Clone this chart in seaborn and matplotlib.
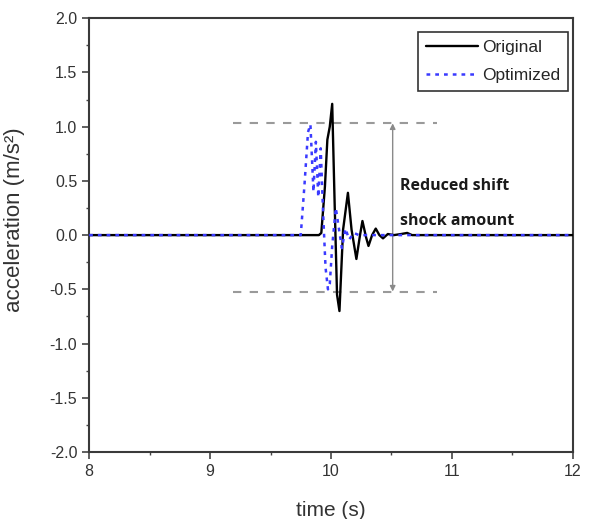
# === IMPORTS ===
import numpy as np
import pandas as pd
import matplotlib
matplotlib.use("Agg")
import matplotlib.pyplot as plt
import seaborn as sns
from matplotlib.ticker import MultipleLocator

# === DATA ===
t_original = [8.0, 9.90, 9.92, 9.95, 9.97, 9.99, 10.01, 10.03, 10.05, 10.07,
              10.10, 10.14, 10.17, 10.21, 10.24, 10.26, 10.29, 10.31, 10.34,
              10.37, 10.40, 10.43, 10.47, 10.52, 10.58, 10.63, 10.67, 12.0]
a_original = [0.0, 0.0, 0.02, 0.45, 0.88, 1.0, 1.21, 0.3, -0.55, -0.70,
              0.05, 0.39, 0.05, -0.22, 0.0, 0.13, -0.02, -0.10, 0.0,
              0.06, 0.0, -0.03, 0.01, 0.0, 0.01, 0.02, 0.0, 0.0]

t_optimized = [8.0, 9.75, 9.78, 9.81, 9.83, 9.855, 9.875, 9.895, 9.915, 9.935,
               9.955, 9.975, 9.99, 10.01, 10.04, 10.06, 10.09, 10.12, 10.15,
               10.19, 10.23, 12.0]
a_optimized = [0.0, 0.0, 0.45, 0.95, 1.02, 0.40, 0.86, 0.35, 0.80, 0.20,
               -0.30, -0.50, -0.45, -0.10, 0.25, 0.10, -0.12, 0.06, -0.04,
               0.02, 0.0, 0.0]

# reference band (max / min after optimization)
band_top = 1.03
band_bottom = -0.52
band_t = [9.19, 10.88]
arrow_t = 10.51

# === SETTINGS ===
sns.set_style("ticks")
plt.rcParams["font.family"] = ["Liberation Sans", "DejaVu Sans"]

df = pd.concat([
    pd.DataFrame({"time": t_original, "acc": a_original, "series": "Original"}),
    pd.DataFrame({"time": t_optimized, "acc": a_optimized, "series": "Optimized"}),
])

fig = plt.figure(figsize=(5.9, 5.19), dpi=100)
ax = fig.add_axes([0.151, 0.129, 0.82, 0.836])

# reference dashed lines + arrow
for yv in (band_top, band_bottom):
    ax.plot(band_t, [yv, yv], color="#9a9a9a", lw=1.5, ls=(0, (4, 4)), zorder=1)
ax.annotate("", xy=(arrow_t, band_bottom), xytext=(arrow_t, band_top),
            arrowprops=dict(arrowstyle="<|-|>", color="#8a8a8a", lw=1.0,
                            mutation_scale=8, shrinkA=0, shrinkB=0), zorder=1)

sns.lineplot(data=df[df.series == "Original"], x="time", y="acc", ax=ax,
             color="black", lw=1.7, estimator=None, sort=False,
             label="Original", zorder=3)
sns.lineplot(data=df[df.series == "Optimized"], x="time", y="acc", ax=ax,
             color="#3a3aff", lw=1.8, ls=(0, (1.5, 2)), estimator=None,
             sort=False, label="Optimized", zorder=4)

ax.text(10.57, 0.45, "Reduced shift", fontsize=11.5, fontweight="bold",
        color="#1a1a1a", va="center", family=["Open Sans", "DejaVu Sans"])
ax.text(10.57, 0.13, "shock amount", fontsize=11.5, fontweight="bold",
        color="#1a1a1a", va="center", family=["Open Sans", "DejaVu Sans"])

# axes
ax.set_xlim(8, 12)
ax.set_ylim(-2.0, 2.0)
ax.xaxis.set_major_locator(MultipleLocator(1))
ax.xaxis.set_minor_locator(MultipleLocator(0.5))
ax.yaxis.set_major_locator(MultipleLocator(0.5))
ax.yaxis.set_minor_locator(MultipleLocator(0.25))
ax.yaxis.set_major_formatter(matplotlib.ticker.FormatStrFormatter("%.1f"))
ax.tick_params(which="major", direction="out", length=5, width=1.2,
               labelsize=11.5, labelcolor="#333333", color="#444444")
ax.tick_params(which="minor", direction="out", length=2.5, width=1.0,
               color="#444444")
for s in ax.spines.values():
    s.set_linewidth(1.5)
    s.set_color("#3a3a3a")

ax.set_xlabel("time (s)", fontsize=15, color="#333333", labelpad=16)
ax.set_ylabel("acceleration (m/s²)", fontsize=16, color="#333333")
ax.yaxis.set_label_coords(-0.132, 0.535)

leg = ax.legend(loc="upper right", bbox_to_anchor=(1.0, 0.98), fontsize=12.5,
                frameon=True, fancybox=False, edgecolor="black",
                handlelength=3.0, handletextpad=0.2, borderpad=0.45,
                labelspacing=0.75, borderaxespad=0.3)
leg.get_frame().set_linewidth(1.2)

plt.savefig("out.png", dpi=100)
plt.close()
